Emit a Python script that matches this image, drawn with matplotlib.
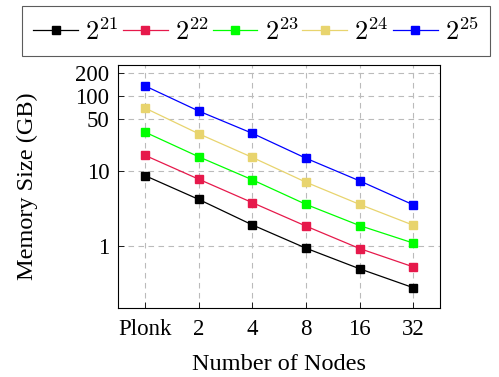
import matplotlib
matplotlib.use("Agg")
import matplotlib.pyplot as plt
from matplotlib.ticker import FixedLocator, NullLocator, FixedFormatter

plt.rcParams['font.family'] = ['Liberation Serif', 'DejaVu Serif']
plt.rcParams['mathtext.fontset'] = 'cm'

categories = ["Plonk", "2", "4", "8", "16", "32"]
series_labels = [r"$2^{21}$", r"$2^{22}$", r"$2^{23}$", r"$2^{24}$", r"$2^{25}$"]
s21 = [8.7, 4.2, 1.92, 0.94, 0.50, 0.28]
s22 = [16.2, 7.8, 3.8, 1.85, 0.93, 0.53]
s23 = [33, 15.5, 7.65, 3.6, 1.88, 1.1]
s24 = [69, 31.4, 15.2, 7.1, 3.6, 1.9]
s25 = [136, 63, 31.8, 14.8, 7.4, 3.55]
colors = ["#000000", "#E6194B", "#00FF00", "#E8D46E", "#0000FF"]
yticks = [1, 10, 50, 100, 200]

fig = plt.figure(figsize=(4.99, 3.77), dpi=100)
ax = fig.add_axes([117.7/499, 1-307.7/377, (440.3-117.7)/499, (307.7-65.3)/377])

x = list(range(len(categories)))
for vals, lab, c in zip([s21, s22, s23, s24, s25], series_labels, colors):
    ax.plot(x, vals, color=c, lw=0.9, marker='s', markersize=5.5, label=lab)

ax.set_yscale('log')
ax.set_ylim(0.152, 256)
ax.set_xlim(-0.51, 5.5)
ax.yaxis.set_major_locator(FixedLocator(yticks))
ax.yaxis.set_major_formatter(FixedFormatter([str(v) for v in yticks]))
ax.yaxis.set_minor_locator(NullLocator())
ax.set_xticks(x)
ax.set_xticklabels(categories)
ax.tick_params(labelsize=16.5, direction='in', length=4, width=0.6, pad=6)
ax.tick_params(axis='x', pad=8)
ax.grid(True, color='#bbbbbb', linestyle=(0, (5, 4)), lw=0.8)
for sp in ax.spines.values():
    sp.set_linewidth(0.8)
ax.set_ylabel("Memory Size (GB)", fontsize=17.5, labelpad=27)
ax.set_xlabel("Number of Nodes", fontsize=17.5, labelpad=10)

leg = fig.legend(loc='upper left', bbox_to_anchor=(21.5/499, 1-6/377), ncol=5,
                 fontsize=19, frameon=True, fancybox=False, edgecolor='#333333',
                 handlelength=1.7, handletextpad=0.27, columnspacing=0.15,
                 borderpad=0.45, borderaxespad=0.0, markerscale=1.0)
leg.get_frame().set_linewidth(0.8)

fig.savefig("out.png", dpi=100)
